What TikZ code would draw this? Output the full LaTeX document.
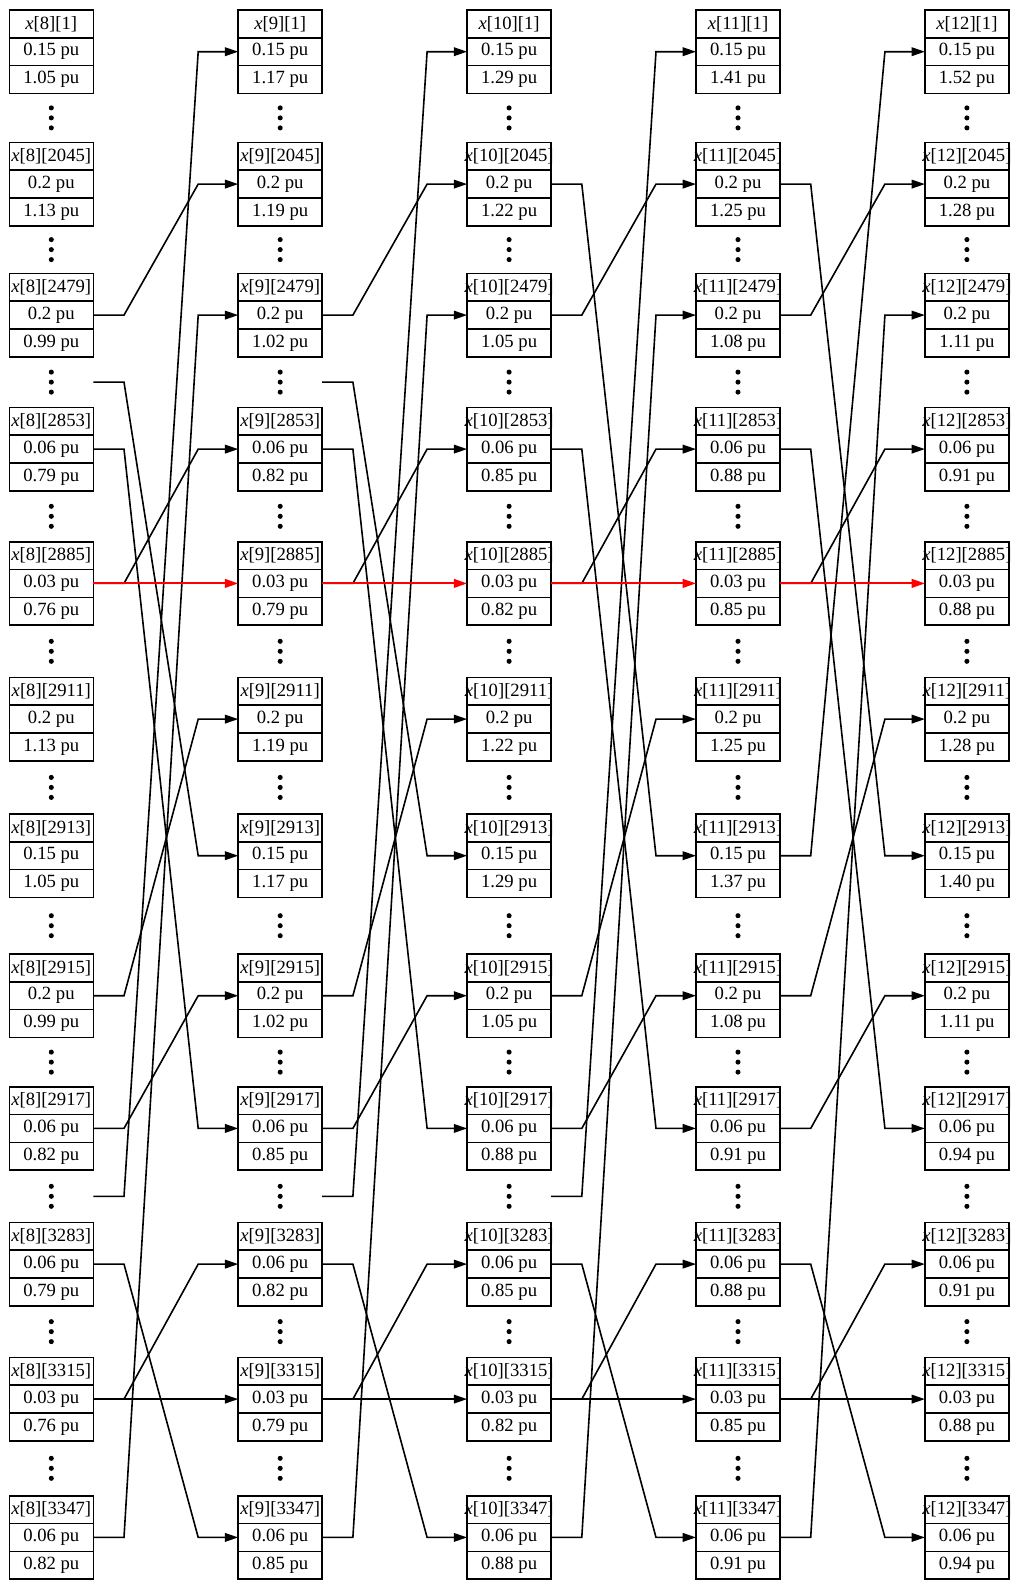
\documentclass[tikz,border=0pt]{standalone}
\usepackage{fontspec}
\setmainfont{Liberation Serif}
\usetikzlibrary{arrows.meta,calc,positioning}

\newcommand\inbox[1]{\makebox[0pt]{#1}}
\newcommand\wire[3][]{\draw[link,#1] (#2.east) -- ++(30.7,0) -- ($(#3.west)+(-40,0)$) -- (#3.west);}

\begin{document}
\begin{tikzpicture}[x=.75pt,y=-.75pt,>={Triangle[length=10pt,width=6.5pt]},
  every node/.style={font=\fontsize{14}{16}\selectfont},
  cell/.style={draw,line width=1.2pt,inner sep=0pt,outer sep=0pt,minimum width=63pt,minimum height=20.85pt},
  gap/.style={inner sep=0pt,outer sep=0pt,minimum width=63pt,minimum height=24pt},
  link/.style={->,line width=1.2pt},
  hot/.style={->,line width=1.5pt,red}]
\useasboundingbox (0,0) rectangle (1012,1581);
\foreach \r/\ytop/\lab/\va/\accs in {0/10/1/0.15/{1.05,1.17,1.29,1.41,1.52},
  1/142.4/2045/0.2/{1.13,1.19,1.22,1.25,1.28}, 2/273.4/2479/0.2/{0.99,1.02,1.05,1.08,1.11},
  3/407.4/2853/0.06/{0.79,0.82,0.85,0.88,0.91}, 4/541.7/2885/0.03/{0.76,0.79,0.82,0.85,0.88},
  5/677.4/2911/0.2/{1.13,1.19,1.22,1.25,1.28}, 6/814/2913/0.15/{1.05,1.17,1.29,1.37,1.40},
  7/954/2915/0.2/{0.99,1.02,1.05,1.08,1.11}, 8/1086.7/2917/0.06/{0.82,0.85,0.88,0.91,0.94},
  9/1222.4/3283/0.06/{0.79,0.82,0.85,0.88,0.91}, 10/1357.4/3315/0.03/{0.76,0.79,0.82,0.85,0.88},
  11/1495.7/3347/0.06/{0.82,0.85,0.88,0.91,0.94}}{
  \foreach \a [count=\k from 8] in \accs {
    \pgfmathsetmacro\xc{51.3+(\k-8)*228.9}
    \node[cell] (t\k-\r) at (\xc,\ytop+13.9) {\inbox{\textit{x}[\k][\lab]}};
    \node[cell,below=0pt of t\k-\r] (v\k-\r) {\inbox{\va{} pu}};
    \node[cell,below=0pt of v\k-\r] (a\k-\r) {\inbox{\a{} pu}};
  }
}
\foreach \r/\gy in {0/117.9,1/249.6,2/382.1,3/516.3,4/651.3,5/787.4,6/925.7,7/1062.1,8/1196.3,9/1331.6,10/1468.3}
  \foreach \k in {8,...,12}{
    \pgfmathsetmacro\xc{51.3+(\k-8)*228.9}
    \node[gap] (g\k-\r) at (\xc,\gy) {};
    \foreach \dy in {-10,0,10} \fill ($(g\k-\r)+(0,\dy)$) circle (1.9pt);
  }
\foreach \k [evaluate=\k as \n using int(\k+1)] in {8,...,11}
  \foreach \src/\dst in {2/1,11/2,4/3,7/5,8/7,3/8,10/9,10/10,9/11} \wire{v\k-\src}{v\n-\dst};
\foreach \src/\dst in {g8-8/v9-0,g8-2/v9-6,g9-8/v10-0,g9-2/v10-6,g10-8/v11-0,v10-1/v11-6,v11-6/v12-0,v11-1/v12-6}
  \wire{\src}{\dst};
\foreach \k [evaluate=\k as \n using int(\k+1)] in {8,...,11}
  \draw[hot] (v\k-4.east) -- (v\n-4.west);
\end{tikzpicture}
\end{document}
